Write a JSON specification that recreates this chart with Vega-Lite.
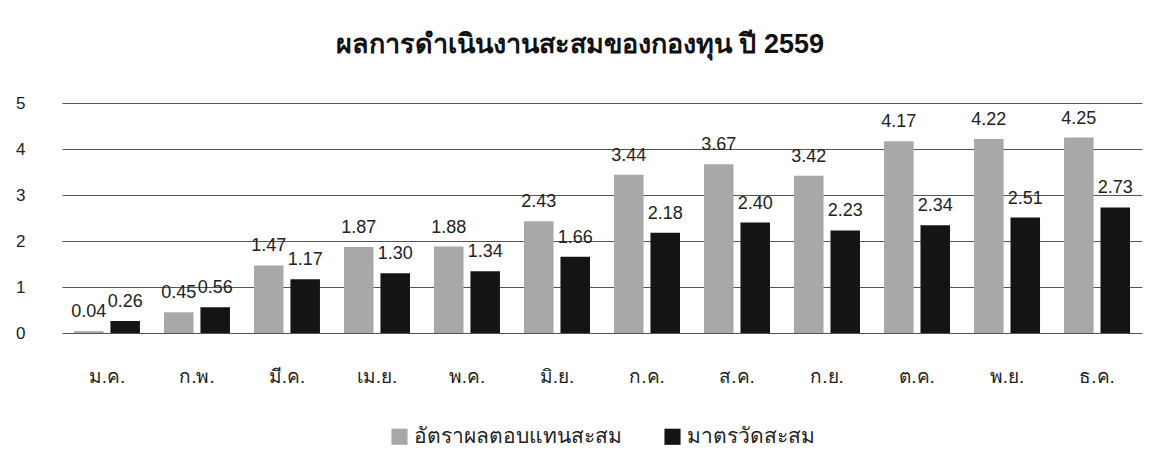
{
  "$schema": "https://vega.github.io/schema/vega-lite/v6.json",
  "width": 1080,
  "height": 230,
  "autosize": {"type": "none"},
  "padding": {"left": 62, "top": 103, "right": 17, "bottom": 130},
  "background": "white",
  "title": {
    "text": "ผลการดำเนินงานสะสมของกองทุน ปี 2559",
    "fontSize": 27,
    "fontWeight": "bold",
    "font": "Liberation Sans, Noto Sans, sans-serif",
    "color": "#111",
    "offset": 35,
    "dx": -22
  },
  "data": {
    "values": [
      {"month": "ม.ค.", "series": "อัตราผลตอบแทนสะสม", "value": 0.04},
      {"month": "ม.ค.", "series": "มาตรวัดสะสม", "value": 0.26},
      {"month": "ก.พ.", "series": "อัตราผลตอบแทนสะสม", "value": 0.45},
      {"month": "ก.พ.", "series": "มาตรวัดสะสม", "value": 0.56},
      {"month": "มี.ค.", "series": "อัตราผลตอบแทนสะสม", "value": 1.47},
      {"month": "มี.ค.", "series": "มาตรวัดสะสม", "value": 1.17},
      {"month": "เม.ย.", "series": "อัตราผลตอบแทนสะสม", "value": 1.87},
      {"month": "เม.ย.", "series": "มาตรวัดสะสม", "value": 1.30},
      {"month": "พ.ค.", "series": "อัตราผลตอบแทนสะสม", "value": 1.88},
      {"month": "พ.ค.", "series": "มาตรวัดสะสม", "value": 1.34},
      {"month": "มิ.ย.", "series": "อัตราผลตอบแทนสะสม", "value": 2.43},
      {"month": "มิ.ย.", "series": "มาตรวัดสะสม", "value": 1.66},
      {"month": "ก.ค.", "series": "อัตราผลตอบแทนสะสม", "value": 3.44},
      {"month": "ก.ค.", "series": "มาตรวัดสะสม", "value": 2.18},
      {"month": "ส.ค.", "series": "อัตราผลตอบแทนสะสม", "value": 3.67},
      {"month": "ส.ค.", "series": "มาตรวัดสะสม", "value": 2.40},
      {"month": "ก.ย.", "series": "อัตราผลตอบแทนสะสม", "value": 3.42},
      {"month": "ก.ย.", "series": "มาตรวัดสะสม", "value": 2.23},
      {"month": "ต.ค.", "series": "อัตราผลตอบแทนสะสม", "value": 4.17},
      {"month": "ต.ค.", "series": "มาตรวัดสะสม", "value": 2.34},
      {"month": "พ.ย.", "series": "อัตราผลตอบแทนสะสม", "value": 4.22},
      {"month": "พ.ย.", "series": "มาตรวัดสะสม", "value": 2.51},
      {"month": "ธ.ค.", "series": "อัตราผลตอบแทนสะสม", "value": 4.25},
      {"month": "ธ.ค.", "series": "มาตรวัดสะสม", "value": 2.73}
    ]
  },
  "encoding": {
    "x": {
      "field": "month",
      "type": "nominal",
      "sort": null,
      "title": null,
      "scale": {"paddingInner": 0.267, "paddingOuter": 0.133},
      "axis": {
        "labelAngle": 0,
        "labelFontSize": 19,
        "labelFont": "Liberation Sans, Noto Sans, sans-serif",
        "labelColor": "#222",
        "labelPadding": 34,
        "ticks": false,
        "domain": false
      }
    },
    "xOffset": {
      "field": "series",
      "type": "nominal",
      "sort": ["อัตราผลตอบแทนสะสม", "มาตรวัดสะสม"],
      "scale": {"paddingInner": 0.19, "paddingOuter": 0}
    },
    "y": {
      "field": "value",
      "type": "quantitative",
      "title": null,
      "scale": {"domain": [0, 5], "nice": false},
      "axis": {
        "values": [0, 1, 2, 3, 4, 5],
        "labelFontSize": 17,
        "labelFont": "Liberation Sans, Noto Sans, sans-serif",
        "labelColor": "#222",
        "labelPadding": 37,
        "ticks": false,
        "domain": false,
        "grid": true,
        "gridColor": "#555",
        "gridWidth": 1
      }
    }
  },
  "layer": [
    {
      "mark": {"type": "bar"},
      "encoding": {
        "color": {
          "field": "series",
          "type": "nominal",
          "sort": ["อัตราผลตอบแทนสะสม", "มาตรวัดสะสม"],
          "scale": {"domain": ["อัตราผลตอบแทนสะสม", "มาตรวัดสะสม"], "range": ["#a8a8a8", "#141414"]},
          "legend": {
            "title": null,
            "orient": "bottom",
            "direction": "horizontal",
            "symbolType": "square",
            "symbolSize": 260,
            "symbolStrokeWidth": 0,
            "labelFontSize": 21,
            "labelFont": "Liberation Sans, Noto Sans, sans-serif",
            "labelColor": "#222",
            "labelLimit": 0,
            "columnPadding": 40,
            "offset": 40
          }
        }
      }
    },
    {
      "mark": {
        "type": "text",
        "baseline": "bottom",
        "dy": -10,
        "fontSize": 18,
        "font": "Liberation Sans, Noto Sans, sans-serif",
        "color": "#222"
      },
      "encoding": {
        "text": {"field": "value", "type": "quantitative", "format": ".2f"}
      }
    }
  ],
  "config": {
    "view": {"stroke": null},
    "legend": {"layout": {"bottom": {"anchor": "middle"}}}
  }
}
